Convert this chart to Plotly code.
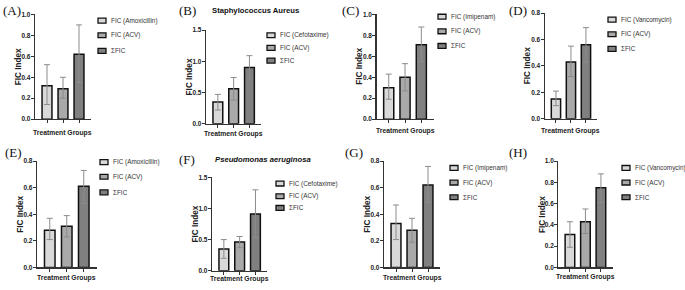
import plotly.graph_objects as go

W, H = 685, 290

# ---------------- data ----------------
panel_labels = ["(A)", "(B)", "(C)", "(D)", "(E)", "(F)", "(G)", "(H)"]
antibiotics = ["Amoxicillin", "Cefotaxime", "Imipenam", "Vancomycin",
               "Amoxicillin", "Cefotaxime", "Imipenam", "Vancomycin"]
group_names = ["FIC ({})", "FIC (ACV)", "ΣFIC"]
titles = ["", "<b>Staphylococcus Aureus</b>", "", "", "", "<b><i>Pseudomonas aeruginosa</i></b>", "", ""]
x_title = "Treatment Groups"
y_title = "FIC Index"

means = [
    [0.32, 0.29, 0.62],
    [0.35, 0.56, 0.90],
    [0.30, 0.40, 0.71],
    [0.15, 0.43, 0.56],
    [0.28, 0.31, 0.61],
    [0.35, 0.46, 0.91],
    [0.33, 0.28, 0.62],
    [0.31, 0.43, 0.75],
]
err_low = [
    [0.14, 0.20, 0.35],
    [0.22, 0.38, 0.72],
    [0.19, 0.27, 0.55],
    [0.10, 0.32, 0.43],
    [0.21, 0.23, 0.48],
    [0.20, 0.37, 0.53],
    [0.21, 0.19, 0.49],
    [0.19, 0.32, 0.61],
]
err_high = [
    [0.52, 0.40, 0.90],
    [0.47, 0.74, 1.09],
    [0.43, 0.53, 0.88],
    [0.21, 0.55, 0.69],
    [0.37, 0.39, 0.73],
    [0.50, 0.55, 1.30],
    [0.47, 0.37, 0.76],
    [0.43, 0.55, 0.88],
]
y_max = [1.0, 1.5, 1.0, 0.8, 0.8, 1.5, 0.8, 1.0]
y_dtick = [0.2, 0.5, 0.2, 0.2, 0.2, 0.5, 0.2, 0.2]
bar_colors = ["#d9d9d9", "#a9a9a9", "#808080"]

# ---------------- layout geometry (pixels) ----------------
# (y-axis x position, category spacing, y of top tick, y of zero, y of x-title)
geom = [
    (35.0, 16.0, 10.7, 118.0, 132.5),
    (206.0, 15.8, 26.7, 122.7, 133.0),
    (376.5, 16.3, 10.7, 118.0, 130.5),
    (544.7, 15.0, 9.3, 117.7, 130.0),
    (37.0, 17.0, 161.0, 270.0, 281.0),
    (212.0, 15.8, 177.7, 273.3, 282.0),
    (384.0, 16.0, 161.0, 270.0, 281.0),
    (558.3, 15.5, 161.0, 270.0, 280.0),
]
# legend: swatch left x, row centres y
leg_geom = [
    (98, [17, 32, 48]),
    (267, [32, 45, 58]),
    (438, [13, 28, 43]),
    (608, [16, 31, 46]),
    (100, [162, 177, 193]),
    (276, [184, 197, 209]),
    (450, [168, 183, 198]),
    (622, [168, 183, 198]),
]
label_pos = [(1, 7), (177, 7), (340, 7), (507, 7), (3, 152), (177, 159), (343, 152), (507, 152)]
title_pos = [None, (210, 7), None, None, None, (213, 159), None, None]


def px(x):
    return x / W


def py(y):
    return 1 - y / H


FONT = "Liberation Sans, Arial"
fig = go.Figure()
shapes = []
annotations = []
x_cats = [0, 1, 2]

for i in range(8):
    ax = "" if i == 0 else str(i + 1)
    x0, sp, ytop, ybot, yxt = geom[i]
    x1 = x0 + 3.5 * sp
    names = [group_names[0].format(antibiotics[i]), group_names[1], group_names[2]]
    for j in range(3):
        m = means[i][j]
        fig.add_trace(go.Bar(
            x=[x_cats[j]], y=[m],
            width=0.62,
            marker=dict(color=bar_colors[j], line=dict(color="#111111", width=1.5)),
            error_y=dict(type="data", symmetric=False,
                         array=[err_high[i][j] - m], arrayminus=[m - err_low[i][j]],
                         color="#8c8c8c", thickness=1, width=3),
            xaxis="x" + ax, yaxis="y" + ax, showlegend=False, name=names[j],
        ))
    fig.layout["xaxis" + ax] = dict(
        domain=[px(x0), px(x1)], range=[-0.75, 2.75], anchor="y" + ax,
        showline=True, linecolor="#333333", linewidth=1.2,
        ticks="outside", ticklen=3, tickcolor="#333333", tickvals=x_cats,
        showticklabels=False, showgrid=False, zeroline=False, fixedrange=True,
    )
    fig.layout["yaxis" + ax] = dict(
        domain=[py(ybot), py(ytop)], range=[0, y_max[i]], anchor="x" + ax,
        showline=True, linecolor="#333333", linewidth=1.2,
        ticks="outside", ticklen=3, tickcolor="#333333",
        dtick=y_dtick[i], tick0=0, tickformat=".1f", ticklabelstandoff=-1,
        tickfont=dict(family=FONT, size=6.5, color="#222", weight="bold"),
        showgrid=False, zeroline=False, fixedrange=True,
    )
    # axis titles
    annotations.append(dict(xref="paper", yref="paper", x=px((x0 + x1) / 2), y=py(yxt),
                            text="<b>" + x_title + "</b>", showarrow=False,
                            xanchor="center", yanchor="middle",
                            font=dict(family=FONT, size=6.8, color="#222")))
    annotations.append(dict(xref="paper", yref="paper", x=px(x0 - 16.5), y=py((ytop + ybot) / 2),
                            text="<b>" + y_title + "</b>", showarrow=False, textangle=-90,
                            xanchor="center", yanchor="middle",
                            font=dict(family=FONT, size=8.2, color="#222")))
    # legend (manual)
    lx, rows = leg_geom[i]
    for j in range(3):
        ry = rows[j]
        shapes.append(dict(type="rect", xref="paper", yref="paper",
                           x0=px(lx), x1=px(lx + 8), y0=py(ry + 2.5), y1=py(ry - 2.5),
                           fillcolor=bar_colors[j], line=dict(color="#111111", width=1.3)))
        annotations.append(dict(xref="paper", yref="paper", x=px(lx + 11), y=py(ry),
                                text=names[j], showarrow=False, xanchor="left", yanchor="middle",
                                font=dict(family=FONT, size=6.4, color="#333")))
    lxp, lyp = label_pos[i]
    annotations.append(dict(xref="paper", yref="paper", x=px(lxp), y=py(lyp),
                            text=panel_labels[i], showarrow=False, xanchor="left", yanchor="middle",
                            font=dict(family="Liberation Serif, Times New Roman", size=13, color="#111")))
    if title_pos[i]:
        tx, ty = title_pos[i]
        annotations.append(dict(xref="paper", yref="paper", x=px(tx), y=py(ty),
                                text=titles[i], showarrow=False, xanchor="left", yanchor="middle",
                                font=dict(family=FONT, size=7.7, color="#111")))

fig.update_layout(
    width=W, height=H,
    margin=dict(l=0, r=0, t=0, b=0),
    paper_bgcolor="white", plot_bgcolor="white",
    barmode="overlay", showlegend=False,
    shapes=shapes, annotations=annotations,
)

fig.write_html("out.html", config={"displayModeBar": False, "staticPlot": True},
               post_script="document.body.style.margin='0';document.body.style.overflow='hidden';")
